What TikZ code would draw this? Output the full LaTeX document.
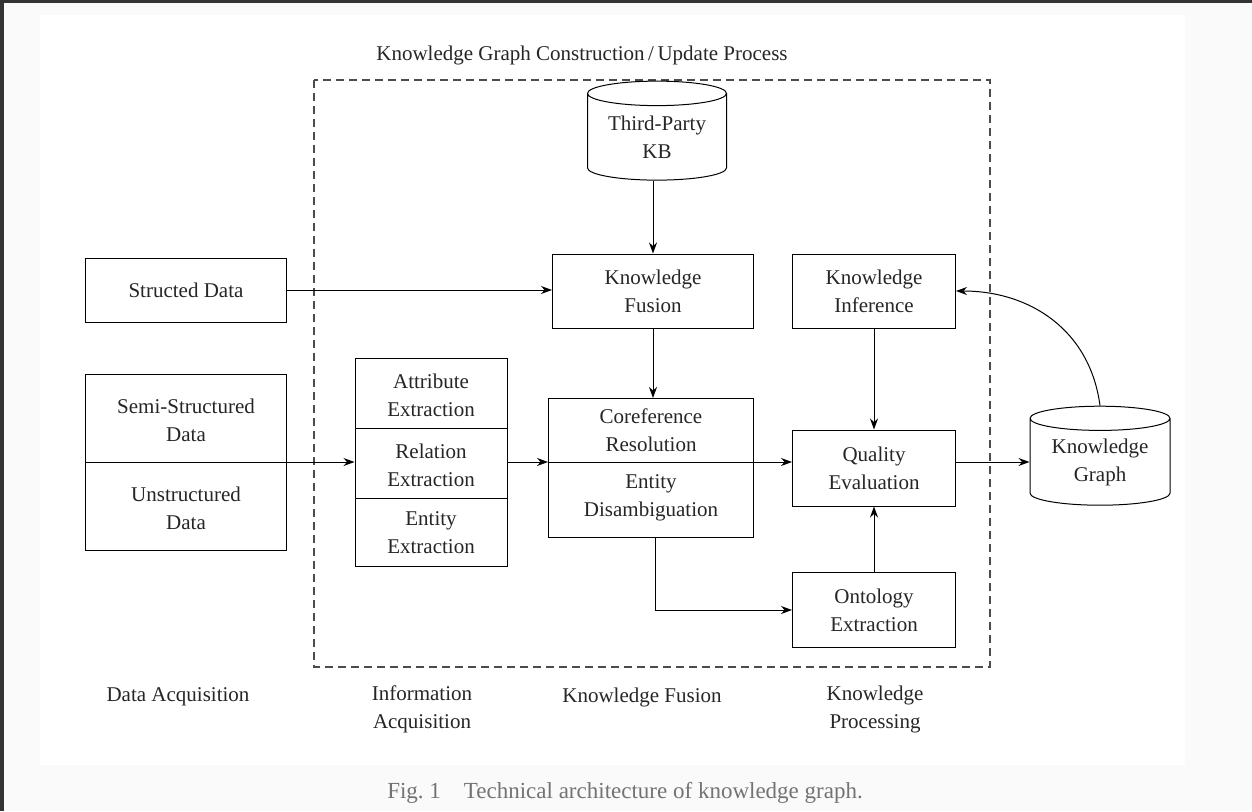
\documentclass[tikz,border=0pt]{standalone}
\usepackage{fontspec}
\setmainfont{Liberation Serif}
\usetikzlibrary{shapes.geometric,arrows.meta}
\begin{document}
\begin{tikzpicture}[x=1pt,y=-1pt,
  every node/.style={font=\fontsize{21}{28}\selectfont, align=center, text=black!85},
  box/.style={draw, line width=1pt, inner sep=0pt},
  db/.style={draw, line width=1pt, cylinder, shape border rotate=90, aspect=0.25, inner sep=0pt},
  arr/.style={-{Stealth[length=11pt,width=8pt]}, line width=1pt}]
\useasboundingbox (0,0) rectangle (1252,811);
\fill[black!2] (0,0) rectangle (1252,811);
\fill[white] (40,15) rectangle (1185,765);
\fill[black!80] (0,0) rectangle (1252,3);
\fill[black!80] (0,0) rectangle (4,811);
\node at (582,55) {Knowledge Graph Construction\,/\,Update Process};
\draw[dashed, line width=1.2pt, black!70, dash pattern=on 8pt off 5pt] (314,80) rectangle (990,667);
\node[db, minimum width=139pt, minimum height=99pt] (kb) at (657,137) {Third-Party\\KB};
\node[box, minimum width=201pt, minimum height=64pt] (sd) at (186,290) {Structed Data};
\node[box, minimum width=201pt, minimum height=176pt] (ss) at (186,462) {};
\draw[line width=1pt] (86,462) -- (287,462);
\node at (186,420) {Semi-Structured\\Data};
\node at (186,508) {Unstructured\\Data};
\node[box, minimum width=152pt, minimum height=208pt] (ie) at (431,462) {};
\draw[line width=1pt] (355,428) -- (507,428) (355,498) -- (507,498);
\node at (431,395) {Attribute\\Extraction};
\node at (431,465) {Relation\\Extraction};
\node at (431,533) {Entity\\Extraction};
\node[box, minimum width=201pt, minimum height=74pt] (kf) at (653,291) {Knowledge\\Fusion};
\node[box, minimum width=205pt, minimum height=139pt] (cr) at (651,468) {};
\draw[line width=1pt] (549,462) -- (754,462);
\node at (651,430) {Coreference\\Resolution};
\node at (651,498) {Entity\\Disambiguation};
\node[box, minimum width=163pt, minimum height=74pt] (ki) at (874,291) {Knowledge\\Inference};
\node[box, minimum width=163pt, minimum height=76pt] (qe) at (874,468) {Quality\\Evaluation};
\node[box, minimum width=163pt, minimum height=75pt] (oe) at (874,610) {Ontology\\Extraction};
\node[db, minimum width=140pt, minimum height=99pt] (kg) at (1100,462) {Knowledge\\Graph};
\node at (178,697) {Data Acquisition};
\node at (422,709) {Information\\Acquisition};
\node at (642,697) {Knowledge Fusion};
\node at (875,709) {Knowledge\\Processing};
\node[text=black!55, font=\fontsize{23}{27}\selectfont] at (625,793) {Fig.~1\quad Technical architecture of knowledge graph.};
\coordinate (m1) at (0,462);
\draw[arr] (kf.north |- kb.bottom) -- (kf.north);
\draw[arr] (sd.east) -- (sd.east -| kf.west);
\draw[arr] (ss.east) -- (ss.east -| ie.west);
\draw[arr] (m1 -| ie.east) -- (m1 -| cr.west);
\draw[arr] (kf.south) -- (kf.south |- cr.north);
\draw[arr] (m1 -| cr.east) -- (m1 -| qe.west);
\draw[arr] (655,538) |- (oe.west);
\draw[arr] (ki.south) -- (qe.north);
\draw[arr] (oe.north) -- (qe.south);
\draw[arr] (m1 -| qe.east) -- (m1 -| kg.west);
\draw[arr] (kg.top) .. controls (1090,330) and (1030,291) .. (ki.east);
\end{tikzpicture}
\end{document}
